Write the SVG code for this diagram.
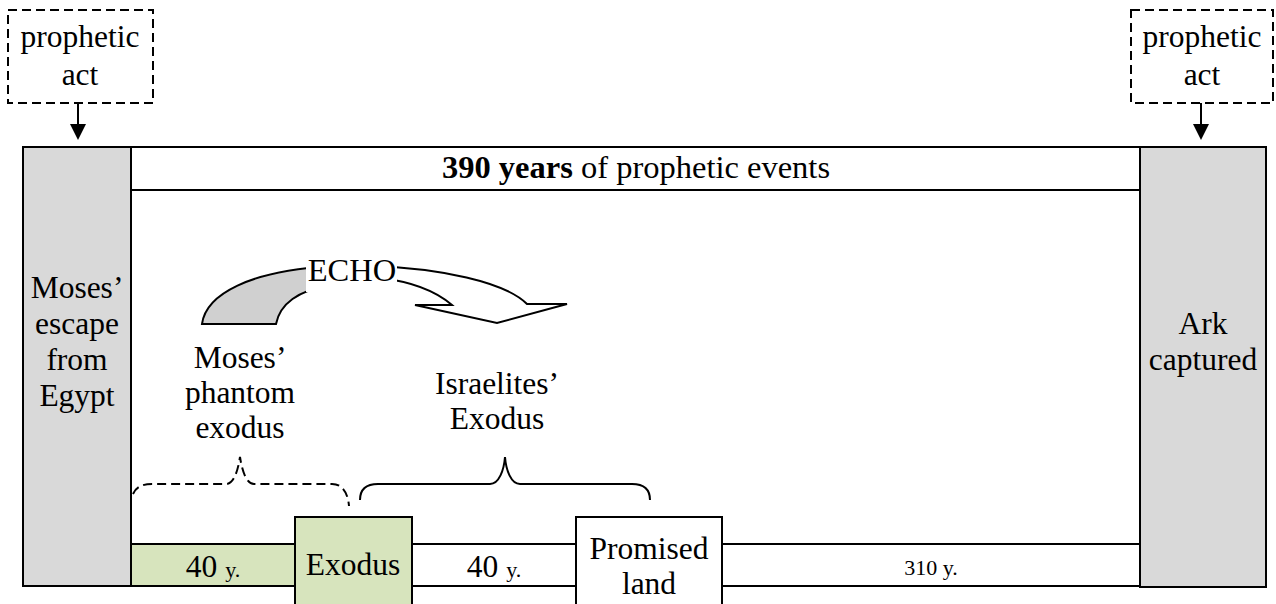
<svg xmlns="http://www.w3.org/2000/svg" width="1276" height="604" viewBox="0 0 1276 604">
<style>
text{font-family:'Liberation Serif','Times New Roman','DejaVu Serif',serif;font-size:31.5px;fill:#000;text-anchor:middle}
.sm{font-size:22px}
.big{font-size:32.5px}
.box{stroke:#000;stroke-width:2}
.gray{fill:#d9d9d9}
.green{fill:#d7e4bd}
.white{fill:#fff}
.dash{fill:none;stroke:#000;stroke-width:2;stroke-dasharray:9,5}
.ln{fill:none;stroke:#000;stroke-width:2}
.arr{stroke:#000;stroke-width:2}
</style>
<defs>
<marker id="ah" markerWidth="8" markerHeight="8" refX="7" refY="4" orient="auto" markerUnits="strokeWidth">
<path d="M0,0 L8,4 L0,8 Z" fill="#000"/>
</marker>
</defs>
<rect width="1276" height="604" fill="#fff"/>

<g id="top-band">
<rect class="box white" x="131" y="147" width="1009" height="43"/>
<text class="big" x="636" y="178"><tspan font-weight="bold">390 years</tspan> of prophetic events</text>
</g>

<g id="moses-escape">
<rect class="box gray" x="23" y="147" width="108" height="439"/>
<text x="77" y="298">Moses’</text>
<text x="77" y="334">escape</text>
<text x="77" y="370">from</text>
<text x="77" y="406">Egypt</text>
</g>

<g id="ark-captured">
<rect class="box gray" x="1140" y="147" width="126" height="440"/>
<text x="1203" y="334">Ark</text>
<text x="1203" y="370">captured</text>
</g>

<g id="prophetic-act-left">
<rect class="dash" x="8" y="10" width="145" height="93"/>
<text x="80" y="47">prophetic</text>
<text x="80" y="85">act</text>
</g>

<g id="prophetic-act-right">
<rect class="dash" x="1131" y="10" width="142" height="93"/>
<text x="1202" y="47">prophetic</text>
<text x="1202" y="85">act</text>
</g>

<g id="bar-40a">
<rect class="box green" x="131" y="544" width="164" height="42"/>
<text x="213" y="577">40 <tspan class="sm">y.</tspan></text>
</g>

<g id="bar-40b">
<rect class="box white" x="412" y="544" width="164" height="42"/>
<text x="494" y="577">40 <tspan class="sm">y.</tspan></text>
</g>

<g id="bar-310">
<rect class="box white" x="722" y="544" width="418" height="42"/>
<text class="sm" x="931" y="575">310 y.</text>
</g>

<g id="exodus">
<rect class="box green" x="295" y="517" width="117" height="95"/>
<text x="353" y="575">Exodus</text>
</g>

<g id="promised-land">
<rect class="box white" x="576" y="517" width="146" height="95"/>
<text x="649" y="559">Promised</text>
<text x="649" y="594">land</text>
</g>

<g id="phantom-label">
<text x="240" y="368">Moses’</text>
<text x="240" y="403">phantom</text>
<text x="240" y="438">exodus</text>
</g>

<g id="israelites-label">
<text x="497" y="394">Israelites’</text>
<text x="497" y="429">Exodus</text>
</g>

<g id="echo">
<path class="arr" fill="#d0d0d0" d="M202,324 C206,294 250,271 330,266 L330,286 C298,290 280,304 276,324 Z"/>
<path class="arr" fill="#ffffff" d="M370,266 C440,268 505,282 527,304 L567,304 L497,323 L415,305 L452,305 C438,293 415,282 380,278 Z"/>
<rect x="306" y="252" width="91" height="40" fill="#fff"/>
<text class="big" x="352" y="281">ECHO</text>
</g>

<g id="connectors">
<line class="ln" x1="78" y1="103" x2="78" y2="138" marker-end="url(#ah)"/>
<line class="ln" x1="1201" y1="103" x2="1201" y2="138" marker-end="url(#ah)"/>
<path class="dash" d="M133,494 C136,487 142,484 152,484 L226,484 C234,484 238,470 240,457 C242,470 246,484 254,484 L332,484 C343,484 348,494 349,506"/>
<path class="ln" d="M360,500 C360,490 366,484 378,484 L490,484 C499,484 504,470 505,457 C506,470 511,484 520,484 L632,484 C644,484 650,490 650,500"/>
</g>
</svg>
